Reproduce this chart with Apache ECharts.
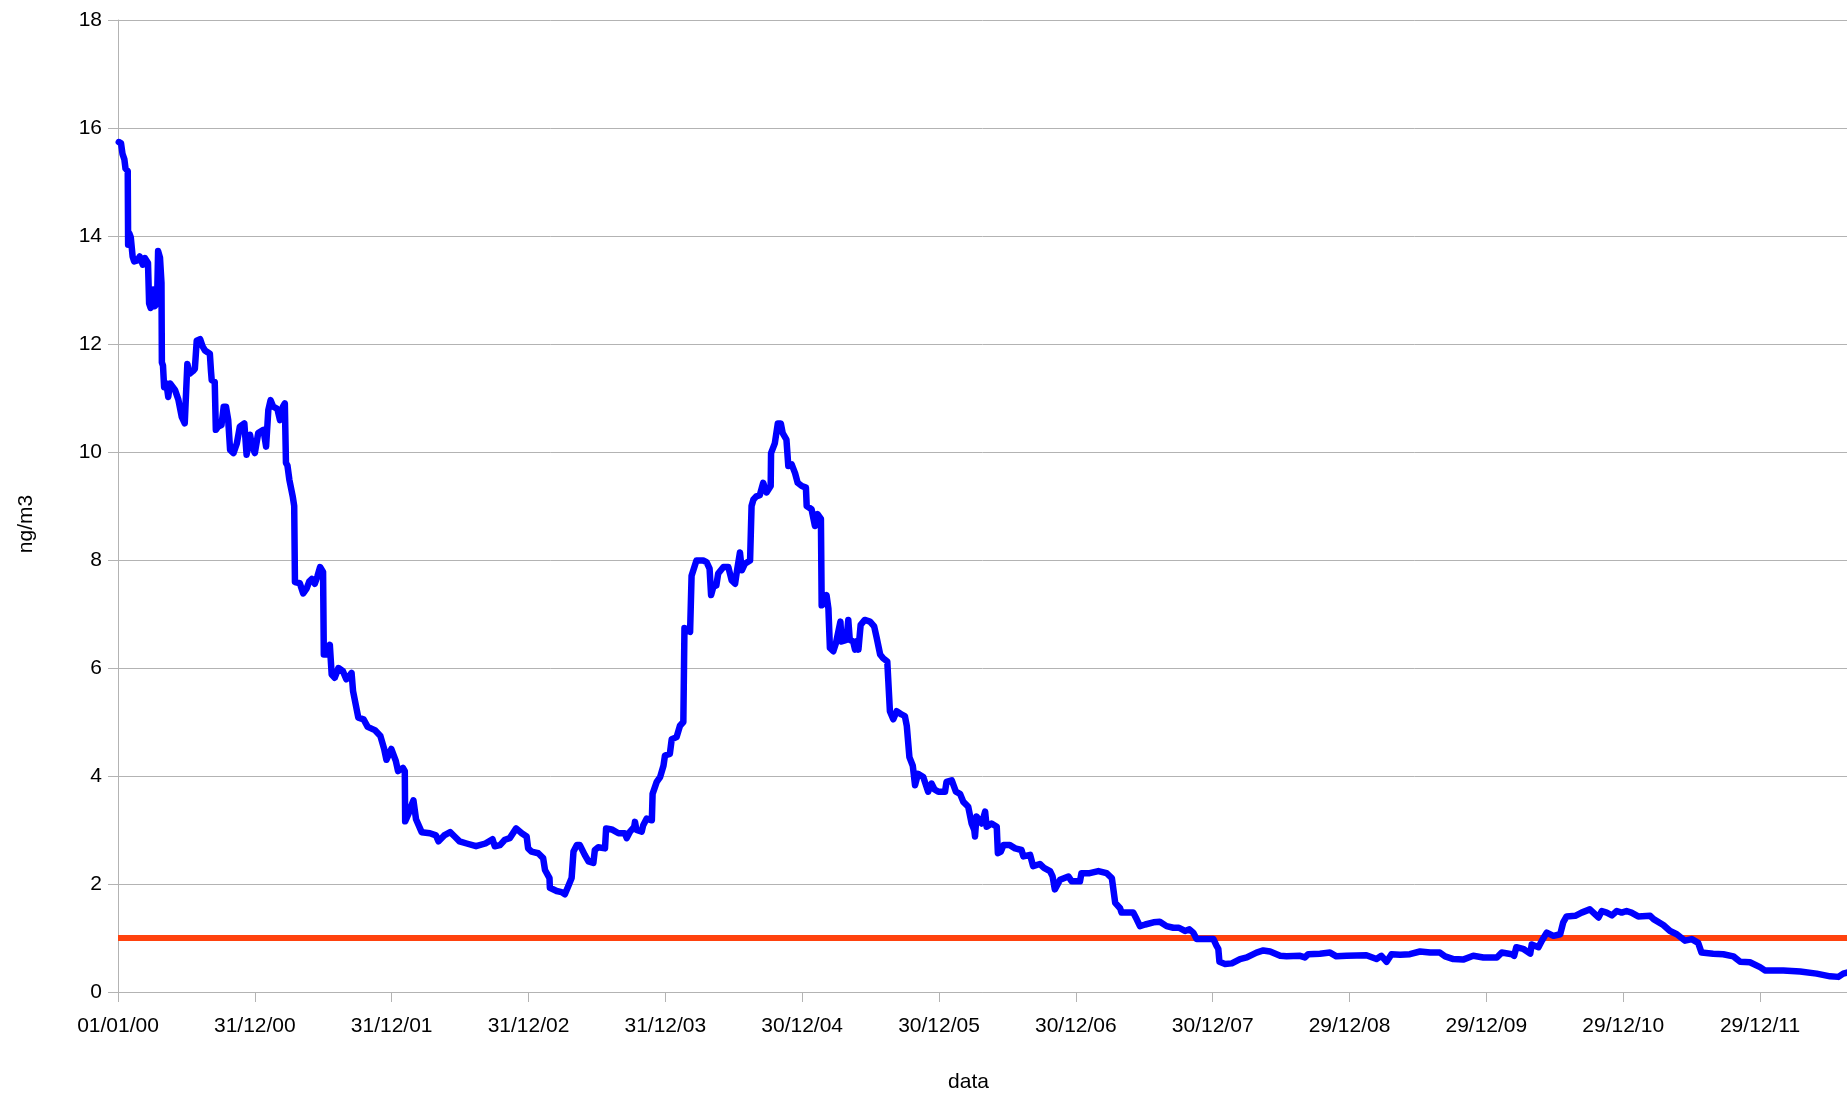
<!DOCTYPE html>
<html>
<head>
<meta charset="utf-8">
<title>ng/m3</title>
<script src="https://cdn.jsdelivr.net/npm/echarts@6/dist/echarts.min.js"></script>
<style>
	html, body { margin: 0; padding: 0; background: #fff; }
	#chart { width: 1847px; height: 1098px; }
</style>
</head>
<body>
<div id="chart"></div>
<script>
	// days counted from 01/01/00
	var dayOffsets = [
		2, 8, 12, 17, 20, 26, 27, 30, 34, 39, 43, 52, 58, 66, 72, 80, 83, 87, 94, 98,
		104, 107, 112, 116, 117, 120, 123, 129, 134, 139, 143, 152, 161, 170, 178, 183, 185, 191, 200, 205,
		210, 219, 226, 232, 245, 248, 250, 258, 261, 267, 276, 282, 288, 294, 299, 308, 317, 325, 337, 343,
		352, 358, 365, 374, 388, 395, 401, 407, 414, 425, 432, 440, 445, 448, 452, 457, 462, 466, 470, 472,
		485, 494, 503, 510, 517, 525, 532, 539, 547, 549, 558, 565, 570, 578, 588, 600, 609, 617, 623, 627,
		630, 641, 655, 666, 685, 700, 710, 716, 729, 741, 747, 760, 765, 766, 775, 782, 788, 795, 810, 832,
		848, 855, 870, 886, 898, 911, 930, 955, 980, 999, 1005, 1019, 1032, 1045, 1062, 1077, 1090, 1094, 1103, 1121,
		1134, 1139, 1151, 1152, 1170, 1183, 1192, 1201, 1210, 1215, 1224, 1232, 1245, 1255, 1268, 1272, 1281, 1299, 1302, 1317,
		1335, 1352, 1357, 1366, 1377, 1379, 1383, 1397, 1401, 1410, 1424, 1426, 1437, 1446, 1455, 1459, 1472, 1477, 1490, 1499,
		1508, 1511, 1526, 1530, 1543, 1561, 1570, 1578, 1582, 1588, 1596, 1601, 1615, 1628, 1637, 1646, 1652, 1659, 1664, 1672,
		1686, 1690, 1695, 1703, 1712, 1721, 1730, 1741, 1742, 1752, 1760, 1768, 1773, 1783, 1788, 1797, 1806, 1813, 1824, 1835,
		1837, 1850, 1859, 1866, 1875, 1877, 1885, 1890, 1895, 1899, 1908, 1915, 1927, 1930, 1943, 1948, 1952, 1961, 1966, 1972,
		1975, 1981, 1992, 2006, 2017, 2024, 2033, 2041, 2052, 2059, 2068, 2077, 2090, 2099, 2104, 2111, 2120, 2126, 2134, 2148,
		2161, 2170, 2178, 2188, 2206, 2210, 2224, 2235, 2246, 2255, 2268, 2277, 2284, 2286, 2290, 2304, 2313, 2317, 2330, 2344,
		2347, 2355, 2362, 2379, 2393, 2410, 2415, 2433, 2441, 2459, 2470, 2486, 2493, 2499, 2513, 2535, 2544, 2566, 2570, 2592,
		2615, 2637, 2651, 2660, 2673, 2677, 2700, 2708, 2717, 2726, 2740, 2762, 2779, 2797, 2815, 2830, 2846, 2858, 2868, 2877,
		2891, 2922, 2930, 2935, 2938, 2953, 2971, 2993, 3011, 3037, 3055, 3073, 3100, 3117, 3153, 3166, 3175, 3206, 3233, 3250,
		3277, 3330, 3357, 3370, 3384, 3397, 3420, 3446, 3473, 3500, 3526, 3540, 3562, 3588, 3615, 3642, 3678, 3691, 3718, 3724,
		3730, 3748, 3767, 3771, 3789, 3798, 3811, 3829, 3847, 3855, 3864, 3887, 3904, 3926, 3949, 3958, 3971, 3985, 3998, 4011,
		4024, 4037, 4055, 4087, 4096, 4122, 4140, 4158, 4180, 4198, 4215, 4224, 4255, 4282, 4309, 4327, 4353, 4380, 4393, 4442,
		4487, 4531, 4567, 4589, 4602, 4612
	];

	var values = [
		15.74, 15.72, 15.52, 15.42, 15.25, 15.2, 13.84, 14.05, 13.98, 13.62, 13.53, 13.55, 13.62, 13.47, 13.59, 13.5, 12.75, 12.67, 13.01, 12.7,
		12.75, 13.72, 13.6, 13.13, 11.66, 11.6, 11.2, 11.27, 11.02, 11.27, 11.27, 11.15, 10.97, 10.65, 10.53, 10.55, 11.63, 11.45, 11.5, 11.54,
		12.06, 12.09, 11.95, 11.88, 11.82, 11.5, 11.33, 11.3, 10.41, 10.47, 10.5, 10.84, 10.84, 10.59, 10.04, 9.98, 10.16, 10.47, 10.53, 9.95,
		10.32, 10.1, 9.98, 10.35, 10.41, 10.1, 10.78, 10.96, 10.84, 10.8, 10.59, 10.84, 10.9, 9.8, 9.75, 9.49, 9.46, 9.18, 9.0, 7.59,
		7.57, 7.38, 7.47, 7.6, 7.65, 7.56, 7.7, 7.87, 7.78, 6.25, 6.25, 6.43, 5.88, 5.82, 6.0, 5.94, 5.79, 5.85, 5.91, 5.57,
		5.55, 5.08, 5.05, 4.91, 4.85, 4.74, 4.5, 4.3, 4.5, 4.28, 4.09, 4.15, 4.09, 3.16, 3.3, 3.44, 3.55, 3.2, 2.96, 2.94,
		2.9, 2.79, 2.9, 2.96, 2.88, 2.79, 2.75, 2.7, 2.75, 2.83, 2.7, 2.72, 2.82, 2.85, 3.03, 2.94, 2.88, 2.66, 2.6, 2.57,
		2.48, 2.26, 2.11, 1.93, 1.87, 1.85, 1.81, 1.96, 2.11, 2.6, 2.72, 2.72, 2.54, 2.42, 2.39, 2.63, 2.68, 2.66, 3.03, 3.01,
		2.94, 2.94, 2.85, 2.97, 3.06, 3.15, 3.0, 2.97, 3.09, 3.21, 3.18, 3.67, 3.89, 3.98, 4.19, 4.38, 4.41, 4.68, 4.72, 4.93,
		5.0, 6.74, 6.67, 7.71, 7.99, 7.99, 7.96, 7.84, 7.35, 7.5, 7.53, 7.75, 7.87, 7.87, 7.62, 7.56, 7.84, 8.14, 7.81, 7.93,
		7.99, 9.0, 9.12, 9.18, 9.2, 9.43, 9.25, 9.37, 9.98, 10.16, 10.53, 10.53, 10.35, 10.23, 9.74, 9.77, 9.61, 9.43, 9.37, 9.34,
		9.0, 8.94, 8.63, 8.85, 8.76, 7.16, 7.2, 7.35, 7.1, 6.37, 6.31, 6.46, 6.86, 6.49, 6.52, 6.89, 6.52, 6.49, 6.34, 6.5,
		6.34, 6.8, 6.89, 6.86, 6.77, 6.55, 6.25, 6.18, 6.12, 5.2, 5.05, 5.2, 5.14, 5.11, 4.93, 4.35, 4.19, 3.83, 4.04, 3.98,
		3.71, 3.86, 3.75, 3.71, 3.71, 3.89, 3.92, 3.71, 3.67, 3.52, 3.43, 3.12, 3.0, 2.88, 3.25, 3.12, 3.34, 3.06, 3.12, 3.06,
		2.57, 2.6, 2.72, 2.72, 2.66, 2.63, 2.51, 2.54, 2.33, 2.37, 2.3, 2.24, 2.14, 1.9, 2.08, 2.14, 2.05, 2.05, 2.2, 2.2,
		2.24, 2.2, 2.11, 1.65, 1.55, 1.47, 1.47, 1.47, 1.35, 1.22, 1.25, 1.29, 1.3, 1.22, 1.19, 1.19, 1.13, 1.16, 1.1, 0.98,
		0.98, 0.98, 0.86, 0.8, 0.56, 0.52, 0.53, 0.61, 0.64, 0.73, 0.77, 0.75, 0.67, 0.66, 0.67, 0.64, 0.7, 0.71, 0.73, 0.66,
		0.67, 0.68, 0.61, 0.67, 0.56, 0.7, 0.69, 0.7, 0.75, 0.73, 0.73, 0.66, 0.61, 0.6, 0.67, 0.64, 0.64, 0.73, 0.7, 0.67,
		0.83, 0.8, 0.71, 0.88, 0.83, 0.95, 1.1, 1.04, 1.07, 1.29, 1.4, 1.41, 1.47, 1.53, 1.38, 1.5, 1.47, 1.42, 1.5, 1.47,
		1.5, 1.47, 1.4, 1.41, 1.35, 1.24, 1.13, 1.07, 0.95, 0.98, 0.91, 0.73, 0.71, 0.7, 0.66, 0.56, 0.55, 0.46, 0.4, 0.4,
		0.38, 0.34, 0.29, 0.28, 0.34, 0.36
	];

	var limitValue = 1;
	var lastDay = 4612;

	var tickLabels = ['01/01/00', '31/12/00', '31/12/01', '31/12/02', '31/12/03', '30/12/04', '30/12/05',
		'30/12/06', '30/12/07', '29/12/08', '29/12/09', '29/12/10', '29/12/11'];

	var chart = echarts.init(document.getElementById('chart'));

	var greyLine = { color: '#b3b3b3', width: 1 };
	var labelFont = { fontFamily: 'Liberation Sans', fontSize: 21, color: '#000' };

	chart.setOption({
		animation: false,
		backgroundColor: '#fff',
		grid: { left: 118, right: 0, top: 20, bottom: 98 },
		xAxis: {
			type: 'value',
			min: 0,
			max: lastDay,
			interval: 365,
			name: 'data',
			nameLocation: 'middle',
			nameGap: 80,
			nameTextStyle: { fontFamily: 'Liberation Sans', fontSize: 21, color: '#000', padding: [0, 28, 0, 0] },
			axisLine: { lineStyle: greyLine },
			axisTick: { length: 10, lineStyle: greyLine },
			splitLine: { show: false },
			axisLabel: Object.assign({
				margin: 24,
				showMaxLabel: false,
				formatter: function(v) {
					var i = v / 365;
					return (i % 1 === 0 && i < tickLabels.length) ? tickLabels[i] : '';
				}
			}, labelFont)
		},
		yAxis: {
			type: 'value',
			min: 0,
			max: 18,
			interval: 2,
			name: 'ng/m3',
			nameLocation: 'middle',
			nameGap: 81,
			nameRotate: 90,
			nameTextStyle: { fontFamily: 'Liberation Sans', fontSize: 21, color: '#000', padding: [0, 36, 0, 0] },
			axisLine: { show: true, lineStyle: greyLine },
			axisTick: { show: true, length: 10, lineStyle: greyLine },
			splitLine: { lineStyle: greyLine },
			axisLabel: Object.assign({ margin: 16 }, labelFont)
		},
		series: [
			{
				name: 'limit',
				type: 'line',
				showSymbol: false,
				silent: true,
				lineStyle: { color: '#ff420e', width: 6 },
				data: [[0, limitValue], [lastDay, limitValue]]
			},
			{
				name: 'ng/m3',
				type: 'line',
				showSymbol: false,
				lineStyle: { color: '#0000ff', width: 6.5, cap: 'round', join: 'round' },
				data: dayOffsets.map(function(d, i) { return [d, values[i]]; })
			}
		]
	});
</script>
</body>
</html>
